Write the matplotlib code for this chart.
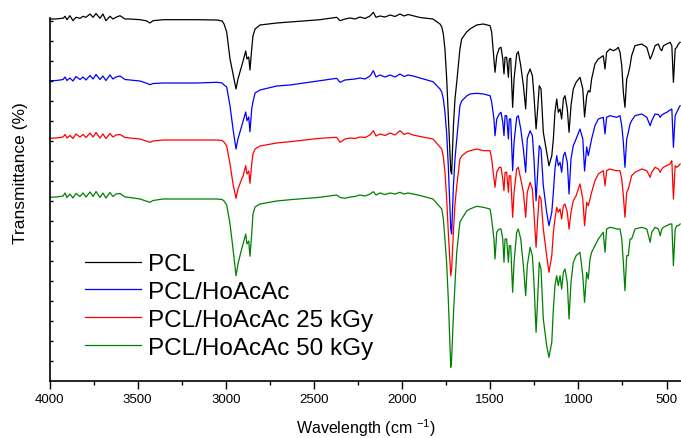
import matplotlib
matplotlib.use("Agg")
import matplotlib.pyplot as plt
from matplotlib.ticker import MultipleLocator, FixedLocator
import numpy as np

# ---------------- data ----------------
# wavenumber grid, cm^-1
wavenumber = [
    3997, 3963, 3940, 3923, 3912, 3901, 3884, 3867, 3850, 3827,
    3810, 3793, 3770, 3753, 3736, 3714, 3697, 3680, 3657, 3640,
    3623, 3600, 3572, 3543, 3487, 3453, 3430, 3413, 3356, 3163,
    3050, 3021, 3010, 2995, 2976, 2959, 2942, 2931, 2910, 2902,
    2887, 2880, 2870, 2863, 2853, 2846, 2834, 2806, 2711, 2636,
    2466, 2371, 2352, 2324, 2295, 2267, 2239, 2210, 2182, 2163,
    2148, 2125, 2097, 2068, 2040, 2012, 1989, 1966, 1938, 1898,
    1825, 1785, 1775, 1766, 1757, 1747, 1738, 1724, 1719, 1709,
    1700, 1690, 1672, 1662, 1634, 1615, 1577, 1539, 1501, 1492,
    1479, 1473, 1463, 1449, 1439, 1429, 1422, 1416, 1407, 1397,
    1392, 1384, 1373, 1365, 1350, 1341, 1327, 1312, 1299, 1290,
    1274, 1261, 1252, 1240, 1231, 1222, 1212, 1199, 1180, 1167,
    1151, 1142, 1133, 1123, 1114, 1104, 1095, 1085, 1076, 1063,
    1053, 1042, 1029, 1013, 991, 975, 965, 953, 944, 934,
    925, 906, 887, 859, 849, 840, 821, 802, 783, 774,
    764, 754, 745, 736, 726, 717, 707, 698, 679, 641,
    612, 593, 584, 565, 546, 536, 527, 518, 499, 480,
    470, 461, 451, 442, 433, 423,
]

# stacked signal, read downward from the top of the frame (offset units)
pcl = [
    20, 20, 19.5, 19.3, 17.3, 20.7, 16.7, 21.7, 18.3, 19.3,
    17.3, 18.3, 15, 18.3, 14.5, 19.3, 15, 21.7, 17.3, 20,
    18.3, 16.7, 20, 20, 20.7, 21.7, 24, 21.7, 20.7, 20.7,
    21, 22, 25, 33, 60, 75, 90, 80, 67, 62,
    52, 60, 58, 71, 50, 37, 30, 26, 24, 23,
    20.7, 18.3, 21.7, 20, 19, 20, 18, 19.5, 17, 13.3,
    18.3, 17, 18, 16, 17.5, 15, 17, 15.5, 16.7, 18.5,
    20, 25, 28, 35, 50, 80, 117, 172, 175, 127,
    100, 83, 50, 40, 33, 30, 26, 25, 26.7, 33,
    60, 73.3, 56.7, 49.3, 48.3, 60, 75, 58.3, 58.3, 78.3,
    60, 59.3, 108.3, 80, 55, 52.7, 66.7, 86.7, 110, 76.7,
    70, 76.7, 96.7, 130, 110, 86.7, 90, 133.3, 153.3, 166.7,
    156.7, 140, 113.3, 100, 113.3, 110, 120, 100, 96.7, 110,
    133.3, 106.7, 90, 83.3, 78.3, 90, 118, 97, 91.7, 93,
    80, 65, 60, 56.7, 70, 53.3, 50, 51.7, 50, 48.3,
    53.3, 66.7, 93.3, 108.3, 80, 75, 66.7, 56.7, 46.7, 45,
    48.3, 60, 56.7, 46.7, 45, 50, 51.7, 46.7, 45, 43.3,
    46.7, 83.3, 50, 48.3, 45, 43.3,
]

pcl_hoacac = [
    81.7, 81.5, 81, 80.5, 78, 81.5, 79, 82, 77.5, 80.5,
    78, 81, 76.5, 80, 75.5, 80.5, 77, 81.5, 76, 80,
    78, 77, 80.5, 81, 82, 84, 85.7, 84.5, 84, 84,
    83.3, 84, 86, 88, 107, 130, 150, 140, 127, 122,
    113, 121.7, 118, 132.7, 110, 103, 94, 91, 87, 86,
    81.7, 79.3, 83.3, 81, 80.5, 80, 79, 80, 77, 71.7,
    78, 76, 78, 76, 78, 75, 77.5, 76, 77, 79,
    82.7, 90, 93, 100, 113, 135, 166.7, 230, 235, 187,
    160, 140, 106.7, 102, 97, 95, 94.3, 95, 96.7, 103,
    120, 136.7, 120, 115, 113.3, 123.3, 136.7, 116.7, 116.7, 140,
    120, 120, 171.7, 143.3, 118.3, 116.7, 130, 150, 173.3, 140,
    131.7, 136.7, 160, 201.7, 173.3, 146.7, 150, 186.7, 213.3, 226.7,
    213.3, 193.3, 170, 156.7, 166.7, 163.3, 173.3, 156.7, 153.3, 163.3,
    195, 160, 146.7, 140, 130, 140, 172, 148, 156.7, 148,
    140, 126.7, 120, 118.3, 135, 118.3, 116.7, 117.5, 118.3, 117.5,
    116.7, 126.7, 143.3, 168.3, 140, 133.3, 125, 121.7, 116.7, 115,
    118.3, 126.7, 121.7, 115, 115.5, 118.3, 116, 115, 113.3, 111,
    110, 148.3, 116.7, 113.3, 110, 106.7,
]

pcl_hoacac_25 = [
    139.3, 139, 138.5, 138, 135.5, 139, 136.5, 139.5, 135, 138,
    135.5, 138.5, 134, 138, 133.5, 139, 135, 139.5, 134.5, 138,
    136, 135.5, 138.5, 139, 140, 142, 143.3, 142, 141, 141,
    141, 141.5, 143, 147, 165, 185, 199.3, 190, 180, 177,
    166.7, 175, 172, 184.3, 165, 155, 150, 147, 144, 142.7,
    139.3, 138.3, 143.3, 140, 139, 139.5, 138, 138.5, 136, 131.7,
    137, 135, 136.5, 134, 136, 131.7, 135.5, 134, 136, 137.5,
    140, 148, 150, 158, 173, 200, 233, 276.7, 270, 233,
    205, 187, 160, 157, 153, 151.7, 150, 151.7, 151.7, 160,
    180, 188.3, 173, 168.3, 168.3, 180, 191.7, 173.3, 173.3, 193.3,
    176.7, 176.7, 218.3, 193.3, 170, 168.3, 180, 193.3, 218.3, 193.3,
    183.3, 190, 213.3, 248.3, 220, 196.7, 200, 230, 256.7, 273.3,
    256.7, 233.3, 220, 208.3, 213.3, 210, 220, 206.7, 205, 213.3,
    230, 213.3, 201.7, 196.7, 185, 200, 226.7, 203.3, 206.7, 200,
    193.3, 181.7, 175, 171.7, 186.7, 171.7, 170, 171, 171.7, 171.7,
    171.7, 180, 196.7, 218.3, 193.3, 190, 183.3, 176.7, 173.3, 170,
    171.7, 178.3, 173.3, 168.3, 170, 173.3, 170, 168.3, 166.7, 165,
    161.7, 200, 166.7, 168.3, 167, 165,
]

pcl_hoacac_50 = [
    198.3, 198, 197.5, 197, 194, 198.5, 195, 199, 194.5, 197.5,
    194, 198, 193, 197.5, 192.5, 198.5, 194, 199, 193.5, 197.5,
    195, 194.5, 198, 198.5, 200, 202, 203.3, 201.5, 200, 200,
    200, 200.5, 202, 206, 225, 250, 276.7, 265, 250, 245,
    235, 245, 242, 257.3, 235, 215, 208, 205, 202, 200.7,
    198.3, 196, 198.5, 199.3, 198, 197.5, 196, 197, 195, 192.7,
    196, 194, 195.5, 194, 195, 193.3, 195, 194, 195, 196.5,
    200, 208, 210, 220, 240, 265, 300, 368.3, 360, 316.7,
    285, 253, 223, 220, 212, 210, 207.3, 208.3, 210, 220,
    240, 260, 233, 230, 230, 240, 263.3, 240, 240, 263.3,
    246.7, 246.7, 293.3, 263.3, 233.3, 230, 240, 266.7, 296.7, 266.7,
    248.3, 256.7, 283.3, 333.3, 300, 263.3, 270, 320, 346.7, 358.3,
    343.3, 310, 286.7, 276.7, 286.7, 276.7, 290, 273.3, 270, 283.3,
    320, 283.3, 263.3, 256.7, 253.3, 276.7, 303.3, 273.3, 280, 260,
    253.3, 246.7, 240, 233.3, 253.3, 230, 228.3, 229, 230, 230,
    230, 240, 263.3, 291.7, 256.7, 256.7, 240, 240, 230, 228.3,
    230, 243.3, 233.3, 228.3, 230, 236.7, 230, 228.3, 226.7, 225,
    225, 266.7, 230, 226.7, 226.7, 225,
]

series_labels = ["PCL", "PCL/HoAcAc", "PCL/HoAcAc 25 kGy", "PCL/HoAcAc 50 kGy"]
series_colors = ["#000000", "#0000FF", "#FF0000", "#008000"]
x_ticks = [4000, 3500, 3000, 2500, 2000, 1500, 1000, 500]

# ---------------- style ----------------
plt.rcParams["font.family"] = ["Liberation Sans", "DejaVu Sans"]
plt.rcParams["mathtext.fontset"] = "custom"
plt.rcParams["mathtext.rm"] = "Liberation Sans"
plt.rcParams["mathtext.it"] = "Liberation Sans:italic"

W, H = 681, 439
fig = plt.figure(figsize=(W / 100, H / 100), dpi=100)
ax_l, ax_b, ax_top = 49.5, 382.0, 19.0
ax = fig.add_axes([ax_l / W, (H - ax_b) / H, (W - ax_l) / W, (ax_b - ax_top) / H])

for vals, col, lab in zip([pcl, pcl_hoacac, pcl_hoacac_25, pcl_hoacac_50],
                          series_colors, series_labels):
    ax.plot(wavenumber, vals, color=col, lw=0.9, label=lab, clip_on=False)

ax.set_xlim(4000, 418)
ax.set_ylim(382, 19)  # offset axis, stacked spectra drawn downward

ax.xaxis.set_major_locator(FixedLocator(x_ticks))
ax.xaxis.set_minor_locator(MultipleLocator(250))
ax.tick_params(axis="x", which="major", direction="out", length=5.5, width=1.0,
               labelsize=9.5, pad=3)
ax.tick_params(axis="x", which="minor", direction="out", length=3, width=1.0)
ax.yaxis.set_major_locator(FixedLocator(np.arange(22, 363, 20)))
ax.tick_params(axis="y", which="both", direction="in", length=2.5, width=1.0,
               labelleft=False)

for s in ["top", "right"]:
    ax.spines[s].set_visible(False)
for s in ["left", "bottom"]:
    ax.spines[s].set_linewidth(1.2)

ax.set_xlabel("Wavelength (cm $^{-1}$)", fontsize=11.5)
ax.xaxis.set_label_coords((366 - ax_l) / (W - ax_l), (ax_b - 417) / (ax_b - ax_top))
ax.set_ylabel("Transmittance (%)", fontsize=12.5)
ax.yaxis.set_label_coords((28 - ax_l) / (W - ax_l), (ax_b - 173) / (ax_b - ax_top))

ax.legend(loc="upper left",
          bbox_to_anchor=((85 - ax_l) / (W - ax_l), (ax_b - 254) / (ax_b - ax_top)),
          frameon=False, fontsize=17.5, handlelength=2.3, handletextpad=0.3,
          labelspacing=0.24, borderpad=0, borderaxespad=0)

fig.savefig("out.png", dpi=100)
